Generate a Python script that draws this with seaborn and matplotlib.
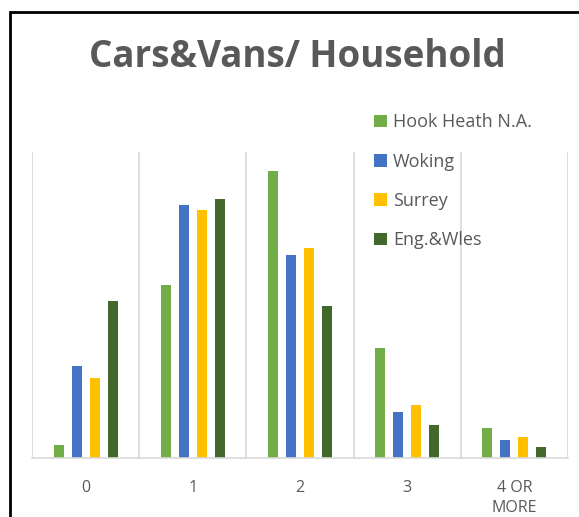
import pandas as pd
import matplotlib.pyplot as plt
import seaborn as sns
from matplotlib.patches import Rectangle

# Data (percent of households)
categories = ['0', '1', '2', '3', '4 OR\nMORE']
hook_heath = [2.2, 28.2, 46.9, 17.9, 4.9]
woking = [15.1, 41.4, 33.1, 7.5, 2.9]
surrey = [13.1, 40.6, 34.3, 8.6, 3.4]
eng_wales = [25.7, 42.4, 24.8, 5.4, 1.8]
series_names = ['Hook Heath N.A.', 'Woking', 'Surrey', 'Eng.&Wles']
colors = ['#70AD47', '#4472C4', '#FFC000', '#43682B']

rows = []
for name, vals in zip(series_names, [hook_heath, woking, surrey, eng_wales]):
    for cat, v in zip(categories, vals):
        rows.append({'cars': cat, 'pct': v, 'area': name})
df = pd.DataFrame(rows)

sns.set_theme(style="white")
plt.rcParams['font.family'] = ['Open Sans', 'DejaVu Sans']
text_grey = '#595959'

fig = plt.figure(figsize=(5.79, 5.17), dpi=100)
ax = fig.add_axes([32 / 579, 1 - 458 / 517, 536 / 579, 306 / 517])

sns.barplot(data=df, x='cars', y='pct', hue='area', order=categories,
            hue_order=series_names, palette=colors, width=0.672, gap=0.45,
            saturation=1, edgecolor='none', ax=ax)

ax.set_xlim(-0.5, 4.5)
ax.set_ylim(0, 50)
ax.set_xlabel('')
ax.set_ylabel('')
ax.set_yticks([])
ax.set_xticks(range(5))
ax.set_xticklabels(categories, color=text_grey, fontsize=11.5, linespacing=1.3)
ax.tick_params(axis='x', length=0, pad=16)
ax.set_xticks([i - 0.5 for i in range(6)], minor=True)
ax.tick_params(axis='x', which='minor', length=0)
ax.grid(False)
ax.grid(True, axis='x', which='minor', color='#D9D9D9', linewidth=1.2)
for s in ['top', 'left', 'right']:
    ax.spines[s].set_visible(False)
ax.spines['bottom'].set_color('#D9D9D9')
ax.spines['bottom'].set_linewidth(1.2)

leg = ax.legend(loc='upper left', bbox_to_anchor=(367 / 579, 1 - 106 / 517),
                bbox_transform=fig.transFigure, frameon=False, fontsize=13,
                handlelength=0.7, handleheight=0.7, handletextpad=0.35,
                labelspacing=1.18, borderaxespad=0)
for t in leg.get_texts():
    t.set_color(text_grey)

fig.text(0.513, 1 - 57 / 517, 'Cars&Vans/ Household', ha='center', va='center',
         fontsize=26.5, fontweight='bold', color=text_grey)

# chart border
fig.patches.append(Rectangle((10 / 579, -0.1), 1.2, 1 - 12 / 517 + 0.1,
                             transform=fig.transFigure, fill=False,
                             edgecolor='black', linewidth=2, zorder=10))

fig.savefig('out.png', dpi=100)
